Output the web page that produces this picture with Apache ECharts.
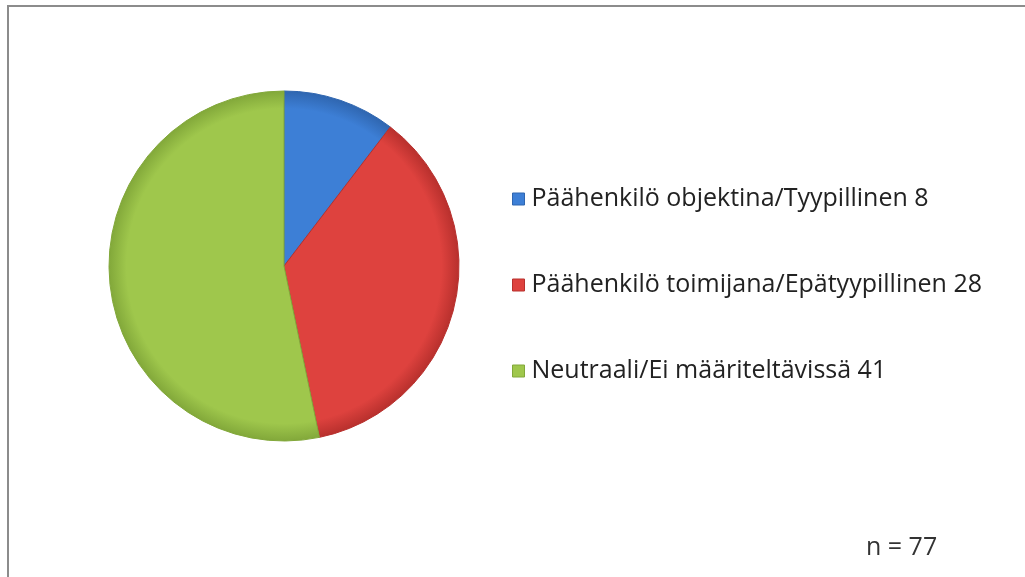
<!DOCTYPE html>
<html><head><meta charset="utf-8">
<script src="https://cdn.jsdelivr.net/npm/echarts@6/dist/echarts.min.js"></script>
<style>html,body{margin:0;padding:0;background:#fff}#c{width:1025px;height:577px}</style>
</head><body><div id="c"></div>
<script>
const categories = ['Päähenkilö objektina/Tyypillinen', 'Päähenkilö toimijana/Epätyypillinen', 'Neutraali/Ei määriteltävissä'];
const values = [8, 28, 41];
const colors = ['#3d7fd6', '#de423e', '#9fc74c'];
const edgeColors = ['#2f66b0', '#b8302d', '#82a83a'];
const totalLabel = 'n = 77';

const chart = echarts.init(document.getElementById('c'));
chart.setOption({
  animation: false,
  backgroundColor: '#fff',
  graphic: [
    { type: 'rect', shape: { x: 8, y: 6, width: 1030, height: 590 }, style: { fill: 'none', stroke: '#8c8c8c', lineWidth: 2 } },
    { type: 'text', left: 866, top: 535, style: { text: totalLabel, font: '25px "Open Sans"', fill: '#333' } }
  ],
  legend: {
    orient: 'vertical', left: 507, top: 180, itemGap: 58,
    itemWidth: 12, itemHeight: 12, icon: 'rect',
    textStyle: { fontFamily: 'Open Sans', fontSize: 25, lineHeight: 28, color: '#222', padding: [0, 0, 0, 2] },
    formatter: function (name) { return name + ' ' + values[categories.indexOf(name)]; },
    data: categories.map((n, i) => ({ name: n, itemStyle: { color: colors[i], borderColor: edgeColors[i], borderWidth: 1 } }))
  },
  series: [{
    type: 'pie', center: [284, 266], radius: 175, startAngle: 90, clockwise: true,
    label: { show: false }, labelLine: { show: false },
    emphasis: { disabled: true },
    data: categories.map((n, i) => ({
      name: n, value: values[i],
      itemStyle: {
        color: { type: 'radial', x: 284, y: 266, r: 175, global: true,
          colorStops: [{ offset: 0, color: colors[i] }, { offset: 0.9, color: colors[i] }, { offset: 1, color: edgeColors[i] }] },
        borderColor: edgeColors[i], borderWidth: 1
      }
    }))
  }]
});
</script></body></html>
